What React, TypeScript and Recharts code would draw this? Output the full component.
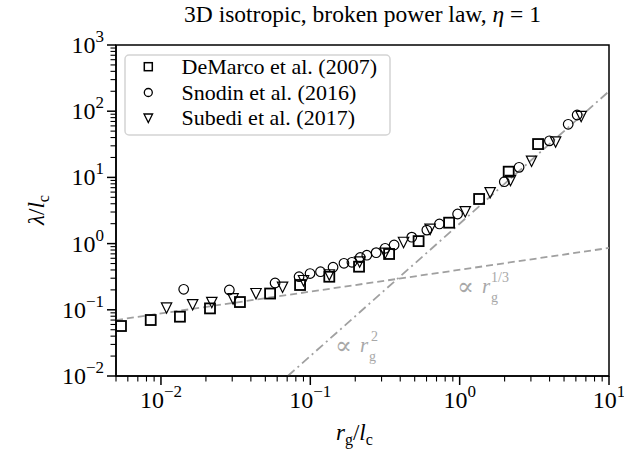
import React from 'react';
import { ComposedChart, Scatter, Line, XAxis, YAxis, ReferenceArea } from 'recharts';

const FONT = '"Liberation Serif", "DejaVu Serif", serif';
const GREY = '#a0a0a0';

// DeMarco et al. (2007) - squares
const demarcoX = [0.0054, 0.00854, 0.0134, 0.0213, 0.0338, 0.0538, 0.0854, 0.134, 0.212, 0.337, 0.531, 0.85, 1.35, 2.13, 3.35];
const demarcoY = [0.0569, 0.0701, 0.0787, 0.105, 0.131, 0.176, 0.237, 0.316, 0.448, 0.697, 1.09, 2.07, 4.72, 12.2, 31.9];

// Snodin et al. (2016) - circles
const snodinX = [0.0142, 0.0287, 0.0581, 0.0841, 0.0996, 0.117, 0.142, 0.168, 0.19, 0.216, 0.239, 0.276, 0.317, 0.364, 0.478, 0.603, 0.732, 0.969, 1.99, 2.5, 3.99, 5.33, 6.12];
const snodinY = [0.204, 0.199, 0.254, 0.316, 0.353, 0.376, 0.439, 0.504, 0.522, 0.617, 0.668, 0.729, 0.849, 0.953, 1.25, 1.6, 1.98, 2.8, 8.61, 14.2, 35.7, 63.4, 87.6];

// Subedi et al. (2017) - down triangles
const subediX = [0.0109, 0.0163, 0.0219, 0.0304, 0.0433, 0.0652, 0.0901, 0.134, 0.214, 0.317, 0.421, 0.634, 1.09, 1.6, 2.19, 3.03, 4.39, 6.51];
const subediY = [0.1065, 0.119, 0.129, 0.146, 0.175, 0.219, 0.275, 0.336, 0.527, 0.714, 1.04, 1.64, 3.03, 5.85, 8.98, 17.5, 34.2, 83.2];

// guide lines, end points
const thirdX = [0.005, 10];
const thirdY = [0.07, 0.86];
const squareLawX = [0.0707, 10];
const squareLawY = [0.01, 200];

const xMajor = [0.01, 0.1, 1, 10];
const yMajor = [0.01, 0.1, 1, 10, 100, 1000];
const minorMult = [2, 3, 4, 5, 6, 7, 8, 9];

const toPoints = (xs: number[], ys: number[]) => xs.map((x, i) => ({ x, y: ys[i] }));

const demarco = toPoints(demarcoX, demarcoY);
const snodin = toPoints(snodinX, snodinY);
const subedi = toPoints(subediX, subediY);
const thirdLine = toPoints(thirdX, thirdY);
const squareLine = toPoints(squareLawX, squareLawY);

const minors = (decades: number[], lo: number, hi: number) =>
  decades
    .flatMap((d) => minorMult.map((m) => parseFloat((d * m).toPrecision(3))))
    .filter((v) => v >= lo && v <= hi);

const xTicks = [...minors([0.001, 0.01, 0.1, 1], 0.005, 10), ...xMajor].sort((a, b) => a - b);
const yTicks = [...minors([0.01, 0.1, 1, 10, 100], 0.01, 1000), ...yMajor].sort((a, b) => a - b);

const isMajor = (v: number) => Math.abs(Math.log10(v) - Math.round(Math.log10(v))) < 1e-6;
const expText = (v: number) => {
  const e = Math.round(Math.log10(v));
  return e < 0 ? `\u2212${-e}` : `${e}`;
};

const XTick = ({ x, y, payload }: any) => {
  const major = isMajor(payload.value);
  return (
    <g>
      <line x1={x} x2={x} y1={y} y2={y + (major ? 9 : 5.5)} stroke="#000" strokeWidth={major ? 1.5 : 1.1} />
      {major && (
        <text x={x} y={y + 32} textAnchor="middle" fontFamily={FONT} fontSize={24} fill="#000">
          10<tspan dy={-11} fontSize={17}>{expText(payload.value)}</tspan>
        </text>
      )}
    </g>
  );
};

const YTick = ({ x, y, payload }: any) => {
  const major = isMajor(payload.value);
  return (
    <g>
      <line x1={x} x2={x - (major ? 9 : 5.5)} y1={y} y2={y} stroke="#000" strokeWidth={major ? 1.5 : 1.1} />
      {major && (
        <text x={x - 12} y={y + 8} textAnchor="end" fontFamily={FONT} fontSize={24} fill="#000">
          10<tspan dy={-11} fontSize={17}>{expText(payload.value)}</tspan>
        </text>
      )}
    </g>
  );
};

const SquareMark = ({ cx, cy, s = 10, w = 1.8 }: any) => (
  <rect x={cx - s / 2} y={cy - s / 2} width={s} height={s} fill="none" stroke="#000" strokeWidth={w} />
);
const CircleMark = ({ cx, cy, r = 4.8, w = 1.2 }: any) => (
  <circle cx={cx} cy={cy} r={r} fill="none" stroke="#000" strokeWidth={w} />
);
const TriMark = ({ cx, cy, r = 5.2, w = 1.2 }: any) => (
  <polygon
    points={`${cx - r},${cy - r} ${cx + r},${cy - r} ${cx},${cy + r}`}
    fill="none"
    stroke="#000"
    strokeWidth={w}
    strokeLinejoin="miter"
  />
);

const legendRows = [
  { label: 'DeMarco et al. (2007)', mark: 'square' },
  { label: 'Snodin et al. (2016)', mark: 'circle' },
  { label: 'Subedi et al. (2017)', mark: 'tri' },
];

const App: React.FC = () => {
  return (
    <div style={{ position: 'relative', width: 624, height: 453, background: '#fff' }}>
      <style>{`body{margin:0}`}</style>
      <ComposedChart width={624} height={453} margin={{ top: 45, right: 15, bottom: 0, left: 0 }}>
        <XAxis
          dataKey="x"
          type="number"
          scale="log"
          domain={[0.005, 10]}
          allowDataOverflow
          ticks={xTicks}
          interval={0}
          tick={<XTick />}
          tickLine={false}
          tickSize={0}
          tickMargin={0}
          height={77}
          axisLine={{ stroke: '#000', strokeWidth: 1.5 }}
        />
        <YAxis
          dataKey="y"
          type="number"
          scale="log"
          domain={[0.01, 1000]}
          allowDataOverflow
          ticks={yTicks}
          interval={0}
          tick={<YTick />}
          tickLine={false}
          tickSize={0}
          tickMargin={0}
          width={116}
          axisLine={{ stroke: '#000', strokeWidth: 1.5 }}
        />
        <Line
          data={thirdLine}
          dataKey="y"
          type="linear"
          dot={false}
          stroke={GREY}
          strokeWidth={1.8}
          strokeDasharray="7 4"
          isAnimationActive={false}
        />
        <Line
          data={squareLine}
          dataKey="y"
          type="linear"
          dot={false}
          stroke={GREY}
          strokeWidth={1.8}
          strokeDasharray="9 4 2 4"
          isAnimationActive={false}
        />
        <Scatter data={demarco} shape={(p: any) => <SquareMark cx={p.cx} cy={p.cy} />} isAnimationActive={false} />
        <Scatter data={snodin} shape={(p: any) => <CircleMark cx={p.cx} cy={p.cy} />} isAnimationActive={false} />
        <Scatter data={subedi} shape={(p: any) => <TriMark cx={p.cx} cy={p.cy} />} isAnimationActive={false} />
        <ReferenceArea x1={0.005} x2={10} y1={0.01} y2={1000} fill="none" stroke="#000" strokeWidth={1.5} />
      </ComposedChart>

      <svg width={624} height={453} style={{ position: 'absolute', left: 0, top: 0, pointerEvents: 'none' }}>
        <text x={362.5} y={22} textAnchor="middle" fontFamily={FONT} fontSize={23.5} fill="#000">
          3D isotropic, broken power law, <tspan fontStyle="italic">η</tspan> = 1
        </text>

        {/* legend */}
        <rect x={125} y={55} width={265} height={80} rx={4} fill="#fff" fillOpacity={0.8} stroke="#d4d4d4" strokeWidth={1.5} />
        {legendRows.map((row, i) => {
          const cy = 66.7 + i * 25.8;
          return (
            <g key={row.label}>
              {row.mark === 'square' && <SquareMark cx={148.3} cy={cy} s={8} w={1.5} />}
              {row.mark === 'circle' && <CircleMark cx={148.3} cy={cy} r={4} w={1.3} />}
              {row.mark === 'tri' && <TriMark cx={148.3} cy={cy} r={4.3} w={1.3} />}
              <text x={181.5} y={cy + 7} fontFamily={FONT} fontSize={22} fill="#000">
                {row.label}
              </text>
            </g>
          );
        })}

        {/* guide annotations */}
        <g fontFamily={FONT} fill="#a8a8a8">
          <text x={457} y={295} fontSize={25} fontFamily='"DejaVu Serif", serif'>∝</text>
          <text x={482} y={293} fontSize={21} fontStyle="italic">r</text>
          <text x={491} y={302} fontSize={14}>g</text>
          <text x={491} y={282} fontSize={14}>1/3</text>

          <text x={335} y={354} fontSize={25} fontFamily='"DejaVu Serif", serif'>∝</text>
          <text x={360} y={352} fontSize={21} fontStyle="italic">r</text>
          <text x={369} y={361} fontSize={14}>g</text>
          <text x={371} y={341} fontSize={14}>2</text>
        </g>

        {/* axis labels */}
        <text x={336} y={440} fontFamily={FONT} fontSize={23} fill="#000">
          <tspan fontStyle="italic">r</tspan>
          <tspan dy={5} fontSize={16}>g</tspan>
          <tspan dy={-5}>/</tspan>
          <tspan fontStyle="italic">l</tspan>
          <tspan dy={5} fontSize={16}>c</tspan>
        </text>
        <text transform="rotate(-90 44 210)" x={44} y={210} textAnchor="middle" fontFamily={FONT} fontSize={23} fill="#000">
          <tspan fontStyle="italic">λ</tspan>
          <tspan>/</tspan>
          <tspan fontStyle="italic">l</tspan>
          <tspan dy={5} fontSize={16}>c</tspan>
        </text>
      </svg>
    </div>
  );
};

export default App;
